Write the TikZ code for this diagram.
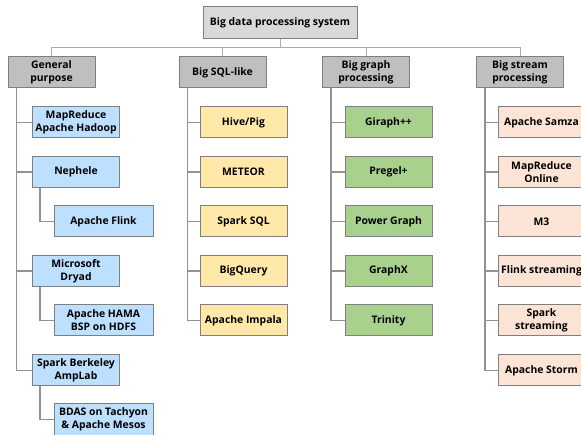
\documentclass[tikz,border=0pt]{standalone}
\usepackage{fontspec}
\setmainfont{Open Sans}
\usepackage{tikz}
\definecolor{rootgray}{HTML}{D9D9D9}
\definecolor{catgray}{HTML}{BFBFBF}
\definecolor{genblue}{HTML}{BDE0FE}
\definecolor{sqlyellow}{HTML}{FFE8A8}
\definecolor{graphgreen}{HTML}{A9D18E}
\definecolor{streampeach}{HTML}{FBE4D5}
\definecolor{edgegray}{HTML}{7F7F7F}

\begin{document}
\begin{tikzpicture}[x=1pt,y=-1pt,
        box/.style={draw=edgegray,line width=1pt,minimum width=87pt,minimum height=31pt,
          align=center,inner sep=1pt,font=\bfseries\fontsize{10.4}{13}\selectfont},
        cat/.style={box,fill=catgray},
        gen/.style={box,fill=genblue},
        sqlbox/.style={box,fill=sqlyellow},
        graphbox/.style={box,fill=graphgreen},
        streambox/.style={box,fill=streampeach},
        link/.style={draw=edgegray!85,line width=1.1pt},
        buslink/.style={draw=edgegray!65,line width=1pt}]
    \useasboundingbox (0,0) rectangle (581,435);
    % root and bus
    \node [box,fill=rootgray,minimum width=154pt,minimum height=32pt] (root) at (280,23) {Big data processing system};
    \coordinate (bus) at (0,48);
    \node [cat] (gp) at (51.5,72.5) {General\\purpose};
    \node [cat] (sql) at (222.5,72.5) {Big SQL-like};
    \node [cat] (graph) at (366,72.5) {Big graph\\processing};
    \node [cat] (stream) at (520,72.5) {Big stream\\processing};
    \foreach \c in {gp,sql,graph,stream}
      \draw [buslink] (root.south) -- (root.south |- bus) -| (\c.north);
    % general purpose
    \node [gen] (hadoop) at (76,122.5) {MapReduce\\Apache Hadoop};
    \node [gen] (nephele) at (76,172) {Nephele};
    \node [gen,minimum width=99pt] (flink) at (103.5,221.5) {Apache Flink};
    \node [gen] (dryad) at (76,271) {Microsoft\\Dryad};
    \node [gen,minimum width=99pt] (hama) at (103.5,320.5) {Apache HAMA\\BSP on HDFS};
    \node [gen] (spark) at (76,370.5) {Spark Berkeley\\AmpLab};
    \node [gen,minimum width=99pt] (bdas) at (103.5,419.5) {BDAS on Tachyon\\\& Apache Mesos};
    \foreach \c in {hadoop,nephele,dryad,spark}
      \draw [link] ([xshift=9pt]gp.south west) |- (\c.west);
    \draw [link] ([xshift=8pt]nephele.south west) |- (flink.west);
    \draw [link] ([xshift=8pt]dryad.south west) |- (hama.west);
    \draw [link] ([xshift=8pt]spark.south west) |- (bdas.west);
    % big sql
    \node [sqlbox] (hive) at (243.5,122.5) {Hive/Pig};
    \node [sqlbox] (meteor) at (243.5,172) {METEOR};
    \node [sqlbox] (sparksql) at (243.5,221.5) {Spark SQL};
    \node [sqlbox] (bigquery) at (243.5,271) {BigQuery};
    \node [sqlbox] (impala) at (243.5,320.5) {Apache Impala};
    \foreach \c in {hive,meteor,sparksql,bigquery,impala}
      \draw [link] ([xshift=9pt]sql.south west) |- (\c.west);
    % big graph
    \node [graphbox] (giraph) at (388.5,122.5) {Giraph++};
    \node [graphbox] (pregel) at (388.5,172) {Pregel+};
    \node [graphbox] (powergraph) at (388.5,221.5) {Power Graph};
    \node [graphbox] (graphx) at (388.5,271) {GraphX};
    \node [graphbox] (trinity) at (388.5,320.5) {Trinity};
    \foreach \c in {giraph,pregel,powergraph,graphx,trinity}
      \draw [link] ([xshift=9pt]graph.south west) |- (\c.west);
    % big stream
    \node [streambox] (samza) at (541.5,122.5) {Apache Samza};
    \node [streambox] (mronline) at (541.5,172) {MapReduce\\Online};
    \node [streambox] (mthree) at (541.5,221.5) {M3};
    \node [streambox] (flinkstream) at (541.5,271) {Flink streaming};
    \node [streambox] (sparkstream) at (541.5,320.5) {Spark\\streaming};
    \node [streambox] (storm) at (541.5,370.5) {Apache Storm};
    \foreach \c in {samza,mronline,mthree,flinkstream,sparkstream,storm}
      \draw [link] ([xshift=9pt]stream.south west) |- (\c.west);
\end{tikzpicture}
\end{document}
